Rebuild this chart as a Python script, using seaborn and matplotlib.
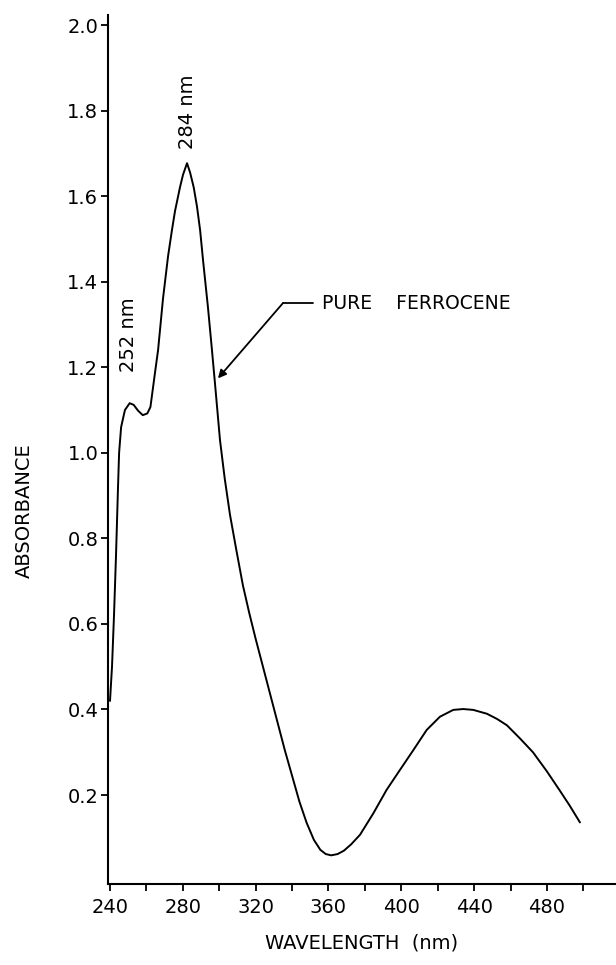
import matplotlib
matplotlib.use("Agg")
import matplotlib.pyplot as plt
import seaborn as sns
import pandas as pd

# Data
wavelength_nm = [240.0, 241.1, 242.2, 243.3, 244.4, 245.0, 246.1, 248.2, 250.8, 253.0,
                 255.5, 258.0, 260.5, 262.2, 264.8, 266.4, 269.1, 271.9, 274.0, 275.7,
                 278.4, 280.1, 282.3, 284.0, 286.0, 287.8, 289.5, 291.1, 293.8, 296.0,
                 297.7, 300.4, 303.0, 305.9, 309.5, 313.0, 316.5, 320.0, 324.0, 328.0,
                 332.0, 336.0, 340.0, 344.0, 348.0, 352.0, 355.5, 358.5, 361.5, 365.0,
                 368.5, 372.5, 377.3, 384.6, 391.9, 399.3, 406.6, 413.9, 421.2, 428.5,
                 434.0, 439.5, 447.0, 452.5, 458.0, 465.0, 472.3, 480.0, 487.1, 492.5,
                 498.1]
absorbance = [0.42, 0.50, 0.62, 0.76, 0.92, 1.00, 1.06, 1.10, 1.116, 1.112,
              1.098, 1.088, 1.092, 1.107, 1.19, 1.24, 1.36, 1.46, 1.52, 1.565,
              1.62, 1.65, 1.677, 1.655, 1.62, 1.575, 1.52, 1.45, 1.34, 1.24,
              1.16, 1.03, 0.94, 0.855, 0.77, 0.69, 0.625, 0.565, 0.50, 0.435,
              0.37, 0.305, 0.245, 0.185, 0.135, 0.095, 0.072, 0.062, 0.059, 0.062,
              0.070, 0.085, 0.107, 0.157, 0.212, 0.259, 0.305, 0.352, 0.383, 0.399,
              0.401, 0.399, 0.39, 0.378, 0.363, 0.333, 0.30, 0.255, 0.21, 0.175,
              0.136]

x_major = [240, 280, 320, 360, 400, 440, 480]
x_minor = [260, 300, 340, 380, 420, 460, 500]
y_ticks = [0.2, 0.4, 0.6, 0.8, 1.0, 1.2, 1.4, 1.6, 1.8, 2.0]
y_ticklabels = ["0.2", "0.4", "0.6", "0.8", "1.0", "1.2", "1.4", "1.6", "1.8", "2.0"]

peak_labels = ["284 nm", "252 nm"]
series_label = "PURE    FERROCENE"

sns.set_style("ticks")
plt.rcParams['font.family'] = ['DejaVu Sans']
plt.rcParams['text.color'] = 'black'
plt.rcParams['axes.labelcolor'] = 'black'

df = pd.DataFrame({"wl": wavelength_nm, "A": absorbance})

fig = plt.figure(figsize=(6.16, 9.65), dpi=100)
ax = fig.add_axes([108/616, 1 - 884/965, 508/616, (884 - 15)/965])

sns.lineplot(data=df, x="wl", y="A", sort=False, estimator=None,
             color="black", linewidth=1.4, ax=ax)

ax.set_xlim(238.9, 517.9)
ax.set_ylim(-0.008, 2.0234)

sns.despine(ax=ax, top=True, right=True)
for s in ["left", "bottom"]:
    ax.spines[s].set_color("black")
    ax.spines[s].set_linewidth(1.5)

ax.set_xticks(x_major)
ax.set_xticklabels([str(v) for v in x_major])
ax.set_xticks(x_minor, minor=True)
ax.set_yticks(y_ticks)
ax.set_yticklabels(y_ticklabels)
ax.tick_params(axis="both", which="both", direction="out", colors="black",
               labelcolor="black", length=5, width=1.3, labelsize=14)
ax.tick_params(axis="y", pad=2)
ax.tick_params(axis="x", pad=5)

ax.set_xlabel("WAVELENGTH  (nm)", fontsize=14, labelpad=12, color="black")
ax.set_ylabel("ABSORBANCE", fontsize=14, color="black")
ax.yaxis.set_label_coords(-0.145, 0.43)

# peak annotations
ax.text(282.6, 1.71, peak_labels[0], rotation=90, ha="center", va="bottom",
        fontsize=14, color="black")
ax.text(249.9, 1.19, peak_labels[1], rotation=90, ha="center", va="bottom",
        fontsize=14, color="black")

# series pointer
ax.annotate("", xy=(299.3, 1.174), xytext=(335.0, 1.35),
            arrowprops=dict(arrowstyle="-|>", color="black", lw=1.3,
                            mutation_scale=12, shrinkA=0, shrinkB=0))
ax.plot([335.0, 351.5], [1.35, 1.35], color="black", lw=1.3)
ax.text(356.4, 1.35, series_label, ha="left", va="center", fontsize=13.5,
        color="black")

fig.savefig("out.png", dpi=100)
